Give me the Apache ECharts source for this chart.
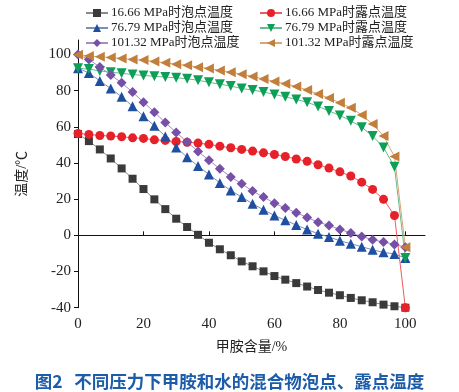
<!DOCTYPE html>
<html><head><meta charset="utf-8">
<script src="https://cdn.jsdelivr.net/npm/echarts@6/dist/echarts.min.js"></script>
<style>html,body{margin:0;padding:0;background:#fff}#c{width:459px;height:392px}</style>
</head><body><div id="c"></div>
<script>
const xs = [0,3.33,6.67,10,13.33,16.67,20,23.33,26.67,30,33.33,36.67,40,43.33,46.67,50,53.33,56.67,60,63.33,66.67,70,73.33,76.67,80,83.33,86.67,90,93.33,96.67,100];
const names = ['16.66 MPa时泡点温度','16.66 MPa时露点温度','76.79 MPa时泡点温度','76.79 MPa时露点温度','101.32 MPa时泡点温度','101.32 MPa时露点温度'];
const bubble1666 = [56,52.1,47.5,42.5,37.0,31.3,25.6,19.9,14.5,9.2,4.6,0.3,-4.1,-7.7,-11.0,-14.4,-17.1,-19.9,-22.5,-24.5,-26.4,-28.3,-30.2,-31.7,-33.1,-34.6,-35.9,-37.0,-38.3,-39.2,-40];
const dew1666 = [56.3,55.8,55.2,54.9,54.5,53.9,53.6,52.8,52.5,51.9,51.5,51.0,50.3,49.3,48.4,47.5,46.6,45.6,44.7,43.6,42.2,40.9,39.0,37.2,35.1,32.8,29.4,25.4,19.9,11.0,-40];
const bubble7679 = [92.4,89.8,85.4,81.2,76.6,71.4,65.9,60.6,54.7,48.6,43.2,38.3,33.7,29.0,24.8,21.2,17.5,14.1,11.0,8.3,5.7,3.2,0.9,-0.9,-3.0,-4.6,-6.3,-8.0,-9.4,-10.3,-12.5];
const dew7679 = [92.4,91.9,90.9,90.2,89.6,88.9,88.4,87.9,87.5,87.1,86.6,85.7,84.6,83.6,82.5,81.2,80.3,79.3,77.9,76.6,75.1,73.6,71.3,68.8,66.3,63.3,59.8,54.9,48.6,37.9,-12.5];
const bubble10132 = [100,97.2,93.1,88.7,84.3,79.2,73.6,68.1,62.4,56.9,51.6,46.4,41.5,36.8,32.3,28.5,24.5,21.2,17.8,15.1,12.5,9.9,7.3,5.5,3.3,1.3,-0.6,-2.4,-3.7,-5.0,-6.6];
const dew10132 = [99.8,99.2,98.7,98.3,97.8,97.2,96.9,96.1,95.4,94.6,94.0,93.0,92.3,91.2,90.2,89.1,87.8,86.5,85.1,83.8,82.3,80.4,78.1,75.9,73.3,70.5,66.6,61.5,54.9,43.6,-6.6];
const xTicks = [0,20,40,60,80,100];
const yTicks = [-40,-20,0,20,40,60,80,100];

const serif = '"Liberation Serif","Noto Sans CJK SC",serif';
const styles = [
  {c:'#3a3a3a', l:'#8a8a8a', s:'rect', r:0, size:8},
  {c:'#e62129', l:'#ee5a5e', s:'circle', r:0, size:9},
  {c:'#1f4fa0', l:'#7a8fb5', s:'triangle', r:0, size:10},
  {c:'#0d9f57', l:'#6bb88e', s:'triangle', r:180, size:10},
  {c:'#7650a6', l:'#a48cc4', s:'diamond', r:0, size:10},
  {c:'#c27f3c', l:'#d6a676', s:'triangle', r:90, size:10}
];
const datas = [bubble1666, dew1666, bubble7679, dew7679, bubble10132, dew10132];
const series = datas.map((d,k)=>({
  name: names[k], type:'line',
  data: d.map((v,i)=>[xs[i], v]),
  symbol: styles[k].s, symbolRotate: styles[k].r, symbolSize: styles[k].size,
  showAllSymbol: true,
  itemStyle: {color: styles[k].c},
  lineStyle: {color: styles[k].l, width: 1},
  animation: false
}));

const chart = echarts.init(document.getElementById('c'));
const legendCommon = {
  orient:'vertical', itemWidth: 22, itemHeight: 10, itemGap: 1,
  textStyle:{fontFamily: serif, fontSize: 13, lineHeight: 14, color:'#222', padding:[0,0,0,-2]},
  padding: 0
};
chart.setOption({
  animation: false,
  title: {
    text: '图2   不同压力下甲胺和水的混合物泡点、露点温度',
    left: 'center', top: 368,
    textStyle: {fontFamily:'"Noto Sans CJK SC",sans-serif', fontSize: 17.5, fontWeight:'bold', color:'#1d5ca8'}
  },
  legend: [
    Object.assign({left: 85, top: 6, data:[names[0],names[2],names[4]]}, legendCommon),
    Object.assign({left: 259, top: 6, data:[names[1],names[3],names[5]]}, legendCommon)
  ],
  grid: {left: 78, right: 34, top: 40, bottom: 84.3},
  xAxis: {
    type:'value', min: 0, max: 106,
    name: '甲胺含量/%', nameLocation:'middle', nameGap: 33,
    nameTextStyle: {fontFamily: serif, fontSize: 14, color:'#222'},
    axisLine:{lineStyle:{color:'#111', width:1}},
    axisTick:{inside:true, length:4, customValues: xTicks, lineStyle:{color:'#111'}},
    axisLabel:{customValues: xTicks, fontFamily: serif, fontSize: 15, color:'#222', margin: 9},
    splitLine:{show:false}
  },
  yAxis: {
    type:'value', min: -40, max: 108,
    name: '温度/℃', nameLocation:'middle', nameGap: 49,
    nameTextStyle: {fontFamily: serif, fontSize: 14, color:'#222'},
    axisLine:{show:true, lineStyle:{color:'#111', width:1}},
    axisTick:{show:true, inside:false, length:4, customValues: yTicks, lineStyle:{color:'#111'}},
    axisLabel:{customValues: yTicks, fontFamily: serif, fontSize: 15, color:'#222', margin: 7},
    splitLine:{show:false}
  },
  series: series
});
</script></body></html>
